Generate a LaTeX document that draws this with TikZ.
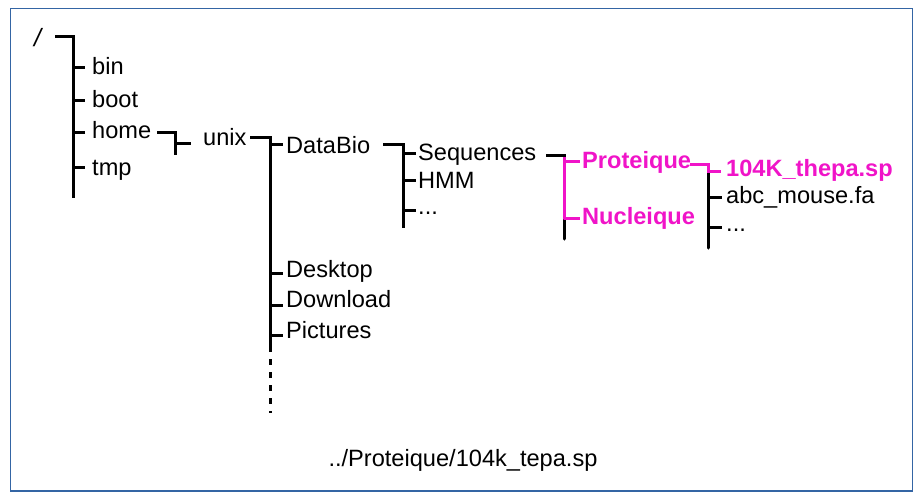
\documentclass[tikz,border=0pt]{standalone}
\usepackage{fontspec}
\setmainfont{Liberation Sans}
\definecolor{framecol}{HTML}{3465A4}
\definecolor{mag}{RGB}{240,20,200}
\begin{document}
\begin{tikzpicture}[x=1pt,y=-1pt,
  lbl/.style={anchor=base west, inner sep=0pt, font=\fontsize{23.6}{28}\selectfont},
  hl/.style={lbl, text=mag, font=\fontsize{23.6}{28}\selectfont\bfseries},
  wire/.style={line width=3pt, black, line cap=round},
  hwire/.style={line width=3pt, mag, line cap=round},
  dwire/.style={line width=3pt, black, dash pattern=on 6pt off 7pt}]
\useasboundingbox (0,0) rectangle (922,499);
\draw[framecol, line width=1.3pt] (10.5,8.5) rectangle (912.5,491);

% labels
\node[lbl, font=\fontsize{25}{28}\selectfont\itshape] (root) at (34,46) {/};
\node[lbl] (bin) at (92,74) {bin};
\node[lbl] (boot) at (92,107) {boot};
\node[lbl] (home) at (92,138) {home};
\node[lbl] (tmp) at (92,175) {tmp};
\node[lbl] (unix) at (203,145) {unix};
\node[lbl] (databio) at (286,153) {DataBio};
\node[lbl] (desktop) at (286,277) {Desktop};
\node[lbl] (download) at (286,307) {Download};
\node[lbl] (pictures) at (286,338) {Pictures};
\node[lbl] (seq) at (418,160) {Sequences};
\node[lbl] (hmm) at (418,188) {HMM};
\node[lbl] (dotsa) at (418,214) {...};
\node[hl] (prot) at (582,168) {Proteique};
\node[hl] (nucl) at (582,224) {Nucleique};
\node[hl] (thepa) at (726,176) {104K\_thepa.sp};
\node[lbl] (abc) at (726,203) {abc\_mouse.fa};
\node[lbl] (dotsb) at (726,231) {...};
\node[lbl, anchor=base] (path) at (463,466) {../Proteique/104k\_tepa.sp};

% root
\coordinate (r0) at (55,36); \coordinate (r1) at (73,36); \coordinate (r2) at (73,198);
\draw[wire, line cap=butt] (r0) -- (r1) -- (r2);
\foreach \y in {67,100,132,167} \draw[wire, line cap=butt] (73,\y) -- (85,\y);

% home -> unix
\coordinate (h0) at (157,132); \coordinate (h1) at (175,132); \coordinate (h2) at (175,155);
\draw[wire, line cap=butt] (h0) -- (h1) -- (h2);
\draw[wire, line cap=butt] (175,143) -- (191,143);

% unix
\coordinate (u0) at (250,137); \coordinate (u1) at (270,137); \coordinate (u2) at (270,352);
\coordinate (u3) at (270,359); \coordinate (u4) at (270,413);
\draw[wire, line cap=butt] (u0) -- (u1) -- (u2);
\draw[dwire] (u3) -- (u4);
\foreach \y in {144,273,305,335} \draw[wire, line cap=butt] (270,\y) -- (283,\y);

% DataBio
\coordinate (d0) at (383,144); \coordinate (d1) at (403,144); \coordinate (d2) at (403,228);
\draw[wire, line cap=butt] (d0) -- (d1) -- (d2);
\foreach \y in {153,180,210} \draw[wire, line cap=butt] (403,\y) -- (416,\y);

% Sequences
\coordinate (s0) at (546,155); \coordinate (s1) at (564,155); \coordinate (s2) at (564,220); \coordinate (s3) at (564,239);
\draw[hwire, line cap=butt] (s1) -- (s2);
\draw[wire] (s2) -- (s3);
\draw[wire, line cap=butt] (s0) -- (565.5,155);
\foreach \y in {161,218} \draw[hwire, line cap=butt] (564,\y) -- (580,\y);

% Proteique
\coordinate (p0) at (690,164); \coordinate (p1) at (708,164); \coordinate (p2) at (708,173); \coordinate (p3) at (708,248);
\draw[wire] (p2) -- (p3);
\draw[hwire, line cap=butt] (p0) -- (p1) -- (p2);
\draw[hwire, line cap=butt] (708,171) -- (721,171);
\foreach \y in {197,227} \draw[wire, line cap=butt] (708,\y) -- (722,\y);
\end{tikzpicture}
\end{document}
